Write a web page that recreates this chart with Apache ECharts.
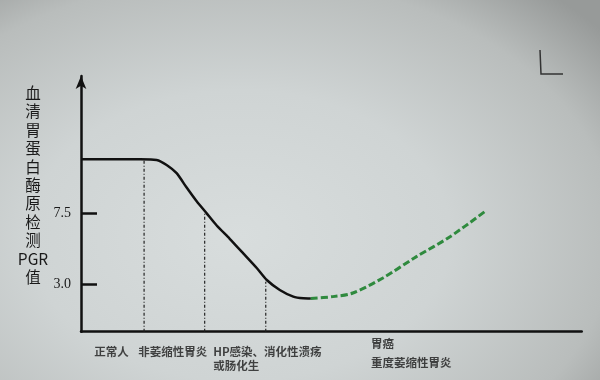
<!DOCTYPE html>
<html>
<head>
<meta charset="utf-8">
<script src="https://cdn.jsdelivr.net/npm/echarts@6/dist/echarts.min.js"></script>
<style>
html,body{margin:0;padding:0;width:600px;height:380px;overflow:hidden;
background:radial-gradient(ellipse 78% 85% at 40% 62%, #d8dddd 0%, #cfd4d4 45%, #b9bdbc 80%, #979a99 100%);}
#c{width:600px;height:380px;}
</style>
</head>
<body>
<div id="c"></div>
<script>
// x positions are in data units (0..100), y values in PGR units
var curveX = [0, 11.8, 15.1, 17.1, 19.1, 21.1, 23.1, 25.1, 27.1, 29.7, 32.4, 35.1, 37.1, 39.7, 42.4, 44.4, 45.9];
var curveY = [10.91, 10.91, 10.87, 10.55, 10.03, 9.12, 8.25, 7.49, 6.72, 5.88, 4.96, 4.03, 3.27, 2.64, 2.22, 2.11, 2.10];
var trendX = [45.9, 50.3, 54.3, 60.3, 67.0, 73.7, 80.6];
var trendY = [2.10, 2.22, 2.45, 3.40, 4.75, 6.01, 7.59];
var dropX = [12.6, 24.7, 36.9];
var dropY = [10.91, 7.49, 3.16];
var yTicks = [3.0, 7.5];
var categories = ['正常人', '非萎缩性胃炎', 'HP感染、消化性溃疡\n或肠化生', '胃癌\n重度萎缩性胃炎'];
var catX = [6.1, 18.3, 26.4, 57.9];
var yName = ['血', '清', '胃', '蛋', '白', '酶', '原', '检', '测', 'PGR', '值'];

function pairs(xs, ys) { return xs.map(function (x, i) { return [x, ys[i]]; }); }

var catStyles = [
  { align: 'center', lineHeight: 14, offset: 13 },
  { align: 'center', lineHeight: 14, offset: 13 },
  { align: 'left', lineHeight: 14, offset: 13 },
  { align: 'left', lineHeight: 19, offset: 2 }
];

var series = [
  {
    type: 'line', data: pairs(curveX, curveY), smooth: 0.2, symbol: 'none',
    lineStyle: { color: '#111', width: 2.5 }, z: 5
  },
  {
    type: 'line', data: pairs(trendX, trendY), smooth: 0.3, symbol: 'none',
    lineStyle: { color: '#2f8a3e', width: 3, type: [7, 3] }, z: 5
  }
];
dropX.forEach(function (x, i) {
  series.push({
    type: 'line', data: [[x, 0], [x, dropY[i]]], symbol: 'none',
    lineStyle: { color: '#222', width: 1.2, type: [3, 2, 1, 2] }, z: 3
  });
});
series.push({
  type: 'scatter', symbolSize: 0, silent: true, z: 6,
  data: categories.map(function (c, i) {
    var s = catStyles[i];
    return {
      value: [catX[i], 0],
      label: {
        show: true, formatter: c, position: [0, s.offset],
        align: s.align, verticalAlign: 'top', lineHeight: s.lineHeight,
        fontSize: 11.5, fontWeight: 'bold', color: '#1a1a1a',
        fontFamily: '"Noto Sans CJK SC", sans-serif'
      }
    };
  })
});

var chart = echarts.init(document.getElementById('c'));
chart.setOption({
  backgroundColor: 'transparent',
  animation: false,
  grid: { left: 81, right: 18.3, top: 76, bottom: 48.3 },
  xAxis: {
    type: 'value', min: 0, max: 100,
    axisLine: { show: true, lineStyle: { color: '#111', width: 2.5 } },
    axisTick: { show: false }, axisLabel: { show: false }, splitLine: { show: false }
  },
  yAxis: {
    type: 'value', min: 0, max: 16.18,
    axisLine: { show: true, symbol: ['none', 'arrow'], symbolSize: [8, 13], lineStyle: { color: '#111', width: 2.5 } },
    axisTick: { show: true, inside: true, length: 16, customValues: yTicks, lineStyle: { color: '#111', width: 2.5 } },
    axisLabel: {
      show: true, customValues: yTicks, margin: 10,
      formatter: function (v) { return v.toFixed(1); },
      fontFamily: '"Liberation Serif", serif', fontSize: 14, color: '#1a1a1a'
    },
    splitLine: { show: false }
  },
  graphic: [
    {
      type: 'text', left: 17, top: 84,
      style: {
        text: yName.join('\n'), fill: '#1a1a1a', font: '15.5px "Noto Sans CJK SC", sans-serif',
        lineHeight: 18.4, textAlign: 'center', width: 32, align: 'center'
      }
    },
    {
      type: 'polyline', shape: { points: [[540, 50], [541, 74], [563, 74]] },
      style: { stroke: '#333', lineWidth: 1.5, fill: null }
    }
  ],
  series: series
});
</script>
</body>
</html>
